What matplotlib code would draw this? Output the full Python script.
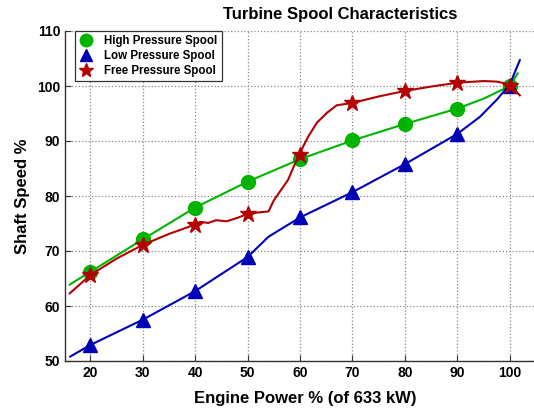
import matplotlib
matplotlib.use("Agg")
import matplotlib.pyplot as plt
from matplotlib.lines import Line2D

plt.rcParams['font.family'] = ['Liberation Sans', 'DejaVu Sans']
plt.rcParams['font.weight'] = 'bold'

# engine power % where the spool speeds were measured
power_pct = [20, 30, 40, 50, 60, 70, 80, 90, 100]

# measured shaft speeds (%)
hp_speed = [66.2, 72.1, 77.9, 82.6, 86.7, 90.1, 93.1, 95.9, 100.0]
lp_speed = [52.9, 57.5, 62.7, 68.9, 76.1, 80.7, 85.8, 91.3, 100.0]
fp_speed = [65.6, 71.1, 74.7, 76.8, 87.5, 96.9, 99.1, 100.6, 100.0]

# curves drawn through the points
hp_curve_x = [16.1, 20, 30, 40, 50, 60, 70, 80, 90, 95, 100, 101.5]
hp_curve_y = [63.9, 66.2, 72.1, 77.9, 82.6, 86.7, 90.1, 93.1, 95.9, 97.7, 100.0, 102.3]

lp_curve_x = [16.2, 20, 30, 40, 50, 54, 60, 70, 80, 90, 94.3, 97.5, 100, 101.9]
lp_curve_y = [50.8, 52.9, 57.5, 62.7, 68.9, 72.6, 76.1, 80.7, 85.8, 91.3, 94.4, 97.5, 100.3, 104.7]

fp_curve_x = [16.1, 20, 25, 30, 35, 39.7, 41.0, 42.5, 44, 46, 48, 49.9, 52, 54.0,
              55.0, 57.7, 59.6, 61.5, 63.2, 65.1, 67.0, 69.9, 75, 80, 85, 90, 95,
              97.5, 99, 100, 101, 101.9]
fp_curve_y = [62.3, 65.6, 68.6, 71.1, 73.1, 74.7, 75.3, 75.1, 75.6, 75.4, 76.0, 76.7, 77.0, 77.2,
              79.2, 82.9, 87.1, 90.7, 93.3, 95.1, 96.5, 96.9, 98.1, 99.1, 99.9, 100.6, 100.9,
              100.8, 100.5, 100.0, 99.2, 98.3]

labels = ['High Pressure Spool', 'Low Pressure Spool', 'Free Pressure Spool']
c_hp = '#00b400'
c_lp = '#0000b4'
c_fp = '#b40000'

fig = plt.figure(figsize=(5.34, 4.16), dpi=100)
ax = fig.add_axes([65 / 534, 55 / 416, 480 / 534, 330 / 416])

ax.plot(hp_curve_x, hp_curve_y, color=c_hp, lw=1.5)
ax.plot(power_pct, hp_speed, 'o', color=c_hp, ms=10)
ax.plot(lp_curve_x, lp_curve_y, color=c_lp, lw=1.5)
ax.plot(power_pct, lp_speed, '^', color=c_lp, ms=10)
ax.plot(fp_curve_x, fp_curve_y, color=c_fp, lw=1.5)
ax.plot(power_pct, fp_speed, '*', color=c_fp, ms=12)

ax.set_xlim(15.2, 106.7)
ax.set_ylim(50, 110)
ax.set_xticks(power_pct)
ax.set_yticks([50, 60, 70, 80, 90, 100, 110])
ax.tick_params(direction='in', labelsize=10, length=4, color='#333333')
for lab in ax.get_xticklabels() + ax.get_yticklabels():
    lab.set_fontweight('bold')
ax.grid(True, linestyle=':', color='#888888', lw=0.9)
ax.spines['top'].set_visible(False)
ax.spines['right'].set_visible(False)
for s in ['left', 'bottom']:
    ax.spines[s].set_color('#333333')
    ax.spines[s].set_linewidth(1.0)

ax.set_xlabel('Engine Power % (of 633 kW)', fontsize=12, fontweight='bold', labelpad=8)
ax.set_ylabel('Shaft Speed %', fontsize=12, fontweight='bold', labelpad=5)
fig.text(340 / 534, 1 - 15 / 416, 'Turbine Spool Characteristics', fontsize=12,
         fontweight='bold', ha='center', va='center')

handles = [Line2D([], [], ls='none', marker='o', color=c_hp, ms=9),
           Line2D([], [], ls='none', marker='^', color=c_lp, ms=9),
           Line2D([], [], ls='none', marker='*', color=c_fp, ms=10)]
leg = ax.legend(handles, labels, loc='upper left', bbox_to_anchor=(75 / 534, 1 - 31 / 416),
                bbox_transform=fig.transFigure, borderaxespad=0, fancybox=False,
                framealpha=1, edgecolor='#333333', prop={'size': 8.3, 'weight': 'bold'},
                handlelength=1.2, handletextpad=1.0, labelspacing=0.25, borderpad=0.35)
leg.get_frame().set_linewidth(0.9)

fig.savefig('out.png', dpi=100)
